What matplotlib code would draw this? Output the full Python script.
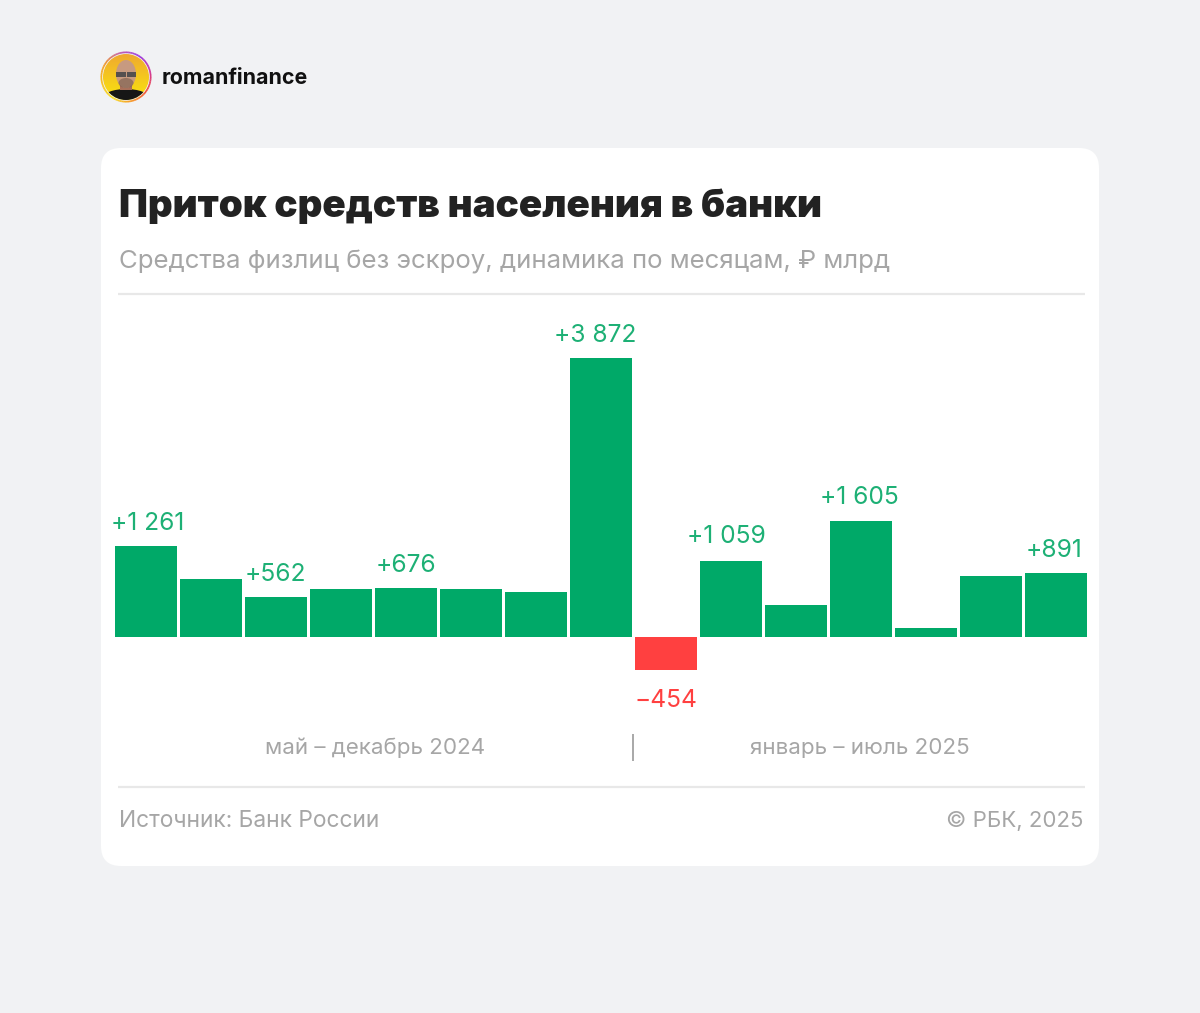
import matplotlib
matplotlib.use("Agg")
import matplotlib.pyplot as plt
from matplotlib.colors import LinearSegmentedColormap
from matplotlib.patches import FancyBboxPatch, Circle, Ellipse, Wedge, Rectangle
import numpy as np

# ---- data ----
months = ["май 24", "июн 24", "июл 24", "авг 24", "сен 24", "окт 24", "ноя 24", "дек 24",
          "янв 25", "фев 25", "мар 25", "апр 25", "май 25", "июн 25", "июл 25"]
values = [1261, 809, 562, 670, 676, 670, 625, 3872, -454, 1059, 444, 1605, 118, 853, 891]
labels = {0: "+1 261", 2: "+562", 4: "+676", 7: "+3 872", 8: "\u2212454", 9: "+1 059", 11: "+1 605", 14: "+891"}
label_x_shift_px = {0: 2, 2: -0.5, 4: -0.5, 7: -5.5, 8: 0, 9: -5, 11: -1.5, 14: -2}
label_y_shift_px = {0: 16, 2: 16, 4: 16, 7: 16, 8: -37, 9: 18, 11: 17, 14: 16}
title = "Приток средств населения в банки"
subtitle = "Средства физлиц без эскроу, динамика по месяцам, ₽ млрд"
period_left = "май – декабрь 2024"
period_right = "январь – июль 2025"
source = "Источник: Банк России"
copyright_text = "© РБК, 2025"
account = "romanfinance"

GREEN = "#00A968"
GREEN_T = "#1DB075"
RED = "#FF4040"
GREY = "#A6A6A6"
BG = "#F1F2F4"
RULE = "#E8E8E8"
W, H = 1200, 1013
plt.rcParams["font.family"] = ["Inter", "Roboto", "DejaVu Sans"]

fig = plt.figure(figsize=(W / 100, H / 100), dpi=100, facecolor=BG)

# page layer in pixel coordinates
bg = fig.add_axes([0, 0, 1, 1])
bg.axis("off")

bg.add_patch(FancyBboxPatch((121, 168), 958, 678,
                            boxstyle="round,pad=20,rounding_size=20",
                            fc="white", ec="none"))

# avatar
cx, cy = 126, 77
ring = LinearSegmentedColormap.from_list(
    "ring", ["#9A3DE0", "#D0389A", "#F2503A", "#F79A2A", "#F8E02A", "#F7C023", "#F09A2E", "#C060B0", "#9A3DE0"])
N = 72
for k in range(N):
    # start at the upper right and run clockwise on screen (y axis is inverted)
    a0 = -60 + k * 360 / N
    bg.add_patch(Wedge((cx, cy), 25.5, a0, a0 + 360 / N + 0.5, width=1.7, fc=ring(k / N), ec="none"))
disc = Circle((cx, cy), 23, fc="none", ec="none")
bg.add_patch(disc)
grad = LinearSegmentedColormap.from_list("disc", ["#EFA92F", "#F5C81E", "#F9E40F"])
im = bg.imshow(np.linspace(0, 1, 64).reshape(-1, 1), cmap=grad, aspect="auto",
               extent=(cx - 23, cx + 23, cy + 23, cy - 23), zorder=1)
im.set_clip_path(disc)
parts = [
    Ellipse((cx, cy + 21), 46, 18, fc="#161616", ec="none", zorder=2),
    Rectangle((cx - 6, cy + 4), 12, 9, fc="#A8705A", ec="none", zorder=3),
    Ellipse((cx, cy - 3), 20, 28, fc="#C79A80", ec="none", zorder=4),
    Ellipse((cx, cy + 6), 15, 10, fc="#6E5548", ec="none", alpha=0.55, zorder=5),
    Rectangle((cx - 10, cy - 5), 9.5, 5, fc="#55504F", ec="none", zorder=6),
    Rectangle((cx + 0.5, cy - 5), 9.5, 5, fc="#55504F", ec="none", zorder=6),
]
for p in parts:
    bg.add_patch(p)
    p.set_clip_path(disc)
bg.set_xlim(0, W)
bg.set_ylim(H, 0)

bg.text(162, 78, account, fontsize=15.4, fontweight="bold", color="#111111", va="center", ha="left")
bg.text(119, 207, title, fontsize=27.8, fontweight="black", color="#222222", va="center", ha="left")
bg.text(119, 262, subtitle, fontsize=18.58, color=GREY, va="center", ha="left")
bg.plot([118, 1085], [294, 294], color=RULE, lw=1.6, solid_capstyle="butt")
bg.plot([118, 1085], [787, 787], color=RULE, lw=1.6, solid_capstyle="butt")
bg.plot([633, 633], [734, 761], color="#A8A8A8", lw=1.4, solid_capstyle="butt")
bg.text(375, 748, period_left, fontsize=16.1, color=GREY, va="center", ha="center")
bg.text(860, 748, period_right, fontsize=16.1, color=GREY, va="center", ha="center")
bg.text(119, 821, source, fontsize=16.4, color=GREY, va="center", ha="left")
bg.text(1083, 821, copyright_text, fontsize=16.0, color=GREY, va="center", ha="right")

# chart: 115..1087 px wide, zero at y=637, 3872 at y=358
PX_PER_UNIT = 279 / 3872
top_px, bot_px = 310, 720
ax = fig.add_axes([115 / W, 1 - bot_px / H, 972 / W, (bot_px - top_px) / H])
ax.patch.set_alpha(0)
ax.axis("off")
ax.set_xlim(-0.477, len(values) - 1 + 0.477)
ax.set_ylim(-(bot_px - 637) / PX_PER_UNIT, (637 - top_px) / PX_PER_UNIT)

x = np.arange(len(values))
ax.bar(x, values, width=62 / 65, color=[GREEN if v >= 0 else RED for v in values], linewidth=0)

PT = 0.72  # points per pixel at dpi 100
for i, text in labels.items():
    ax.annotate(text, (i, values[i]),
                xytext=(label_x_shift_px[i] * PT, label_y_shift_px[i] * PT), textcoords="offset points",
                ha="center", va="baseline", fontsize=17.7,
                color=GREEN_T if values[i] >= 0 else RED, clip_on=False)

fig.savefig("out.png", dpi=100, facecolor=BG)
